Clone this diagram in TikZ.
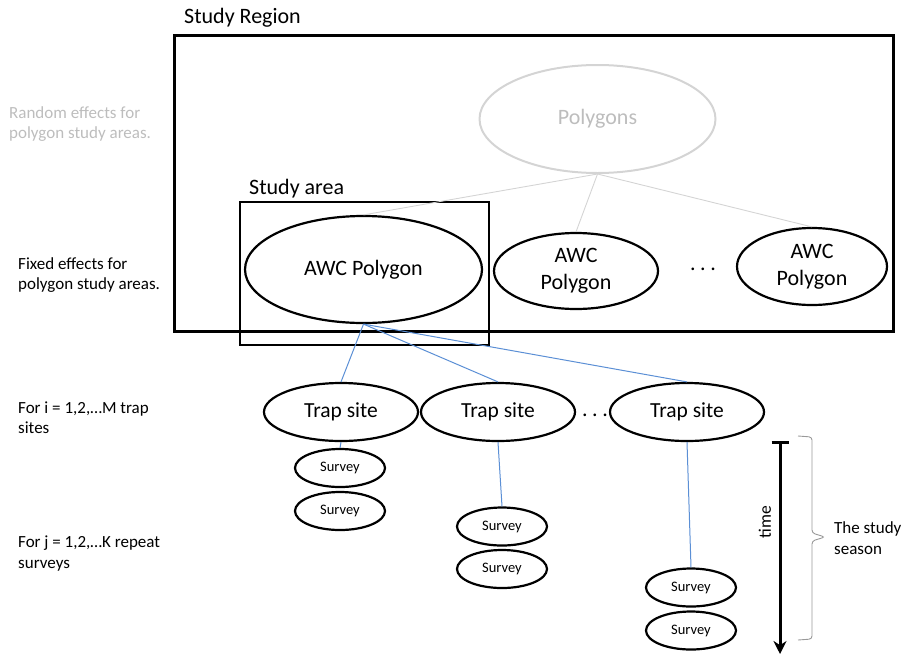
\documentclass[tikz,border=0pt]{standalone}
\usepackage{fontspec}
\setmainfont{Carlito}
\usetikzlibrary{shapes.geometric,arrows.meta}
\definecolor{lblue}{HTML}{5B8FD5}
\definecolor{pgray}{HTML}{D4D4D4}
\definecolor{tgray}{HTML}{BDBDBD}
\tikzset{
  ell/.style={ellipse, draw=black, line width=2.2pt, inner sep=0pt, align=center},
  bigell/.style={ell, font=\fontsize{22}{27}\selectfont},
  trapell/.style={ell, minimum width=154pt, minimum height=58pt, font=\fontsize{21.5}{26}\selectfont},
  survell/.style={ell, minimum width=90pt, minimum height=38pt, font=\fontsize{14.5}{17}\selectfont},
  sidetext/.style={anchor=west, align=left, inner sep=0pt, font=\fontsize{17}{20.5}\selectfont},
  title/.style={anchor=west, inner sep=0pt, font=\fontsize{22}{26}\selectfont},
  grayline/.style={draw=pgray, line width=0.9pt},
  blueline/.style={draw=lblue, line width=1pt},
  dotsnode/.style={anchor=base, inner sep=0pt, font=\fontsize{22}{26}\selectfont}
}
\begin{document}
\begin{tikzpicture}[x=1pt,y=-1pt]
\useasboundingbox (0,0) rectangle (909,656);
% rectangles
\node[draw=black, line width=3pt, minimum width=719pt, minimum height=296pt, inner sep=0pt] (region) at (533.5,183) {};
\node[title] (regionlbl) at (184,18) {Study Region};
\node[draw=black, line width=2.5pt, minimum width=249pt, minimum height=143pt, inner sep=0pt] (sarea) at (364.5,273.5) {};
\node[title] (sarealbl) at (249,189) {Study area};
% polygons
\node[ellipse, draw=pgray, line width=2pt, minimum width=236pt, minimum height=108pt, inner sep=0pt, text=tgray, font=\fontsize{22}{26}\selectfont] (poly) at (597.5,119) {Polygons};
\node[bigell, minimum width=237pt, minimum height=107pt] (awc1) at (363.5,269.5) {AWC Polygon};
\node[bigell, minimum width=164pt, minimum height=76pt] (awc2) at (576,271) {AWC\\Polygon};
\node[bigell, minimum width=150pt, minimum height=77pt] (awc3) at (812,266.5) {AWC\\Polygon};
\node[dotsnode] (dotsA) at (703,270) {.\hspace{4.5pt}.\hspace{4.5pt}.};
% trap sites
\node[trapell] (trap1) at (341,412) {Trap site};
\node[trapell] (trap2) at (498,412) {Trap site};
\node[trapell] (trap3) at (687,412) {Trap site};
\node[dotsnode] (dotsB) at (595,416) {.\hspace{4.5pt}.\hspace{4.5pt}.};
% surveys
\node[survell] (s1a) at (340,468) {Survey};
\node[survell] (s1b) at (340,511) {Survey};
\node[survell] (s2a) at (502,526.5) {Survey};
\node[survell] (s2b) at (502,569) {Survey};
\node[survell] (s3a) at (691,587.5) {Survey};
\node[survell] (s3b) at (691,630.5) {Survey};
% connectors
\draw[grayline] (poly.south) -- (awc1.north);
\draw[grayline] (poly.south) -- (awc2.north);
\draw[grayline] (poly.south) -- (awc3.north);
\draw[blueline] (awc1.south) -- (trap1.north);
\draw[blueline] (awc1.south) -- (trap2.north);
\draw[blueline] (awc1.south) -- (trap3.north);
\draw[blueline] (trap1.south) -- (s1a.north);
\draw[blueline] (trap2.south) -- (s2a.north);
\draw[blueline] (trap3.south) -- (s3a.north);
% side labels
\node[sidetext, text=tgray] (rand) at (9,124) {Random effects for\\polygon study areas.};
\node[sidetext] (fixed) at (18,275) {Fixed effects for\\polygon study areas.};
\node[sidetext] (fori) at (18,417.5) {For i = 1,2,…M trap\\sites};
\node[sidetext] (forj) at (18,553.5) {For j = 1,2,…K repeat\\surveys};
% time arrow
\coordinate (tstart) at (780,441);
\coordinate (tend) at (780,654);
\draw[line width=3pt, {Bar[width=17pt,line width=3pt]}-{Stealth[length=13pt,width=13pt]}] (tstart) -- (tend);
\node[rotate=90, inner sep=0pt, font=\fontsize{17.5}{20}\selectfont] (timelbl) at (765,522) {time};
% brace
\draw[draw=gray!80, line width=0.9pt, rounded corners=3pt] (798,436) -- (812,437) -- (812,533) -- (825,537) -- (812,541) -- (812,639) -- (798,640);
\node[sidetext] (season) at (834,538) {The study\\season};
\end{tikzpicture}
\end{document}
